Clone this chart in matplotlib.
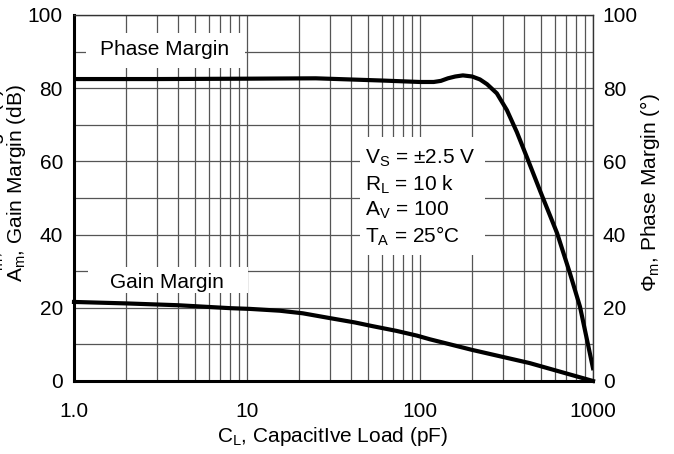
import numpy as np
import matplotlib
matplotlib.use("Agg")
import matplotlib.pyplot as plt
from matplotlib.patches import Rectangle
from matplotlib.ticker import FixedLocator, NullFormatter

plt.rcParams['font.family'] = ['Liberation Sans', 'DejaVu Sans']
plt.rcParams['mathtext.fontset'] = 'custom'
plt.rcParams['mathtext.rm'] = 'Liberation Sans'
plt.rcParams['mathtext.it'] = 'Liberation Sans'

# phase margin vs load capacitance (pF, degrees)
cap_phase = [1, 3, 10, 25, 60, 100, 120, 132, 145, 160, 177, 200, 222, 244, 278, 318,
             363, 416, 494, 620, 735, 841, 1000]
phase_margin = [82.5, 82.5, 82.6, 82.7, 82.1, 81.7, 81.7, 82.0, 82.7, 83.2, 83.5, 83.2,
                82.4, 81.1, 78.6, 74.0, 68.0, 61.0, 52.0, 40.4, 29.5, 20.3, 3.5]

# gain margin vs load capacitance (pF, dB)
cap_gain = [1, 2, 4, 8, 10.4, 15.5, 21, 30, 42, 53, 73, 96, 114, 200, 430, 1000]
gain_margin = [21.6, 21.2, 20.7, 19.9, 19.7, 19.2, 18.5, 17.2, 16.0, 15.0, 13.7, 12.4,
               11.4, 8.5, 4.9, 0.0]

x_ticks = [1, 10, 100, 1000]
x_labels = ['1.0', '10', '100', '1000']
y_ticks = [0, 20, 40, 60, 80, 100]

conditions = ['V$_\\mathrm{S}$ = \u00b12.5 V', 'R$_\\mathrm{L}$ = 10 k',
              'A$_\\mathrm{V}$ = 100', 'T$_\\mathrm{A}$ = 25\u00b0C']

fs = 15
grid_col = '#555555'

fig = plt.figure(figsize=(6.74, 4.54), dpi=100)
ax = fig.add_axes([74 / 674, 73 / 454, 519 / 674, 366 / 454])

ax.set_xscale('log')
ax.set_xlim(1, 1000)
ax.set_ylim(0, 100)
ax.xaxis.set_major_locator(FixedLocator(x_ticks))
ax.set_xticklabels(x_labels)
minors = [m * d for d in [1, 10, 100] for m in range(2, 10)]
ax.xaxis.set_minor_locator(FixedLocator(minors))
ax.xaxis.set_minor_formatter(NullFormatter())
ax.set_yticks(y_ticks)
ax.set_yticks(np.arange(10, 100, 20), minor=True)
ax.grid(True, which='both', color=grid_col, lw=0.9, zorder=0)
ax.set_axisbelow(True)
ax.tick_params(axis='both', which='both', length=0, labelsize=fs)
ax.tick_params(axis='x', pad=15)
ax.tick_params(axis='y', pad=8)

for s in ['left', 'bottom']:
    ax.spines[s].set_linewidth(2.2)
    ax.spines[s].set_color('black')
for s in ['top', 'right']:
    ax.spines[s].set_linewidth(1.0)
    ax.spines[s].set_color('#333333')

# white label boxes hiding the grid
for (x0, y0, w, h) in [(0.023, 0.855, 0.307, 0.096),
                       (0.027, 0.240, 0.308, 0.071),
                       (0.551, 0.344, 0.241, 0.323)]:
    ax.add_patch(Rectangle((x0, y0), w, h, transform=ax.transAxes,
                           facecolor='white', edgecolor='none', zorder=1.5))

ax.plot(cap_phase, phase_margin, color='black', lw=3, zorder=3,
        solid_joinstyle='round')
ax.plot(cap_gain, gain_margin, color='black', lw=3, zorder=3, clip_on=False,
        solid_joinstyle='round')

ax.text(0.175, 0.907, 'Phase Margin', transform=ax.transAxes, fontsize=fs,
        ha='center', va='center', zorder=4)
ax.text(0.179, 0.270, 'Gain Margin', transform=ax.transAxes, fontsize=fs,
        ha='center', va='center', zorder=4)
for i, line in enumerate(conditions):
    ax.text(0.561, 0.607 - i * 0.071, line, transform=ax.transAxes, fontsize=fs,
            ha='left', va='center', zorder=4)

ax2 = ax.twinx()
ax2.set_ylim(0, 100)
ax2.set_yticks(y_ticks)
ax2.tick_params(axis='y', length=0, labelsize=fs, pad=7)
for s in ax2.spines.values():
    s.set_visible(False)

fig.text(333 / 674, 1 - 437 / 454, 'C$_\\mathrm{L}$, CapacitIve Load (pF)',
         fontsize=fs, ha='center', va='center')
fig.text(650 / 674, 1 - 193 / 454, '\u03a6$_\\mathrm{m}$, Phase Margin (\u00b0)',
         fontsize=fs, ha='center', va='center', rotation=90)
fig.text(17 / 674, 1 - 183 / 454, 'A$_\\mathrm{m}$, Gain Margin (dB)',
         fontsize=fs, ha='center', va='center', rotation=90)
fig.text(-6 / 674, 1 - 188 / 454, '\u03a6$_\\mathrm{m}$, Phase Margin (\u00b0)',
         fontsize=fs, ha='center', va='center', rotation=90)

fig.savefig('out.png', dpi=100)
